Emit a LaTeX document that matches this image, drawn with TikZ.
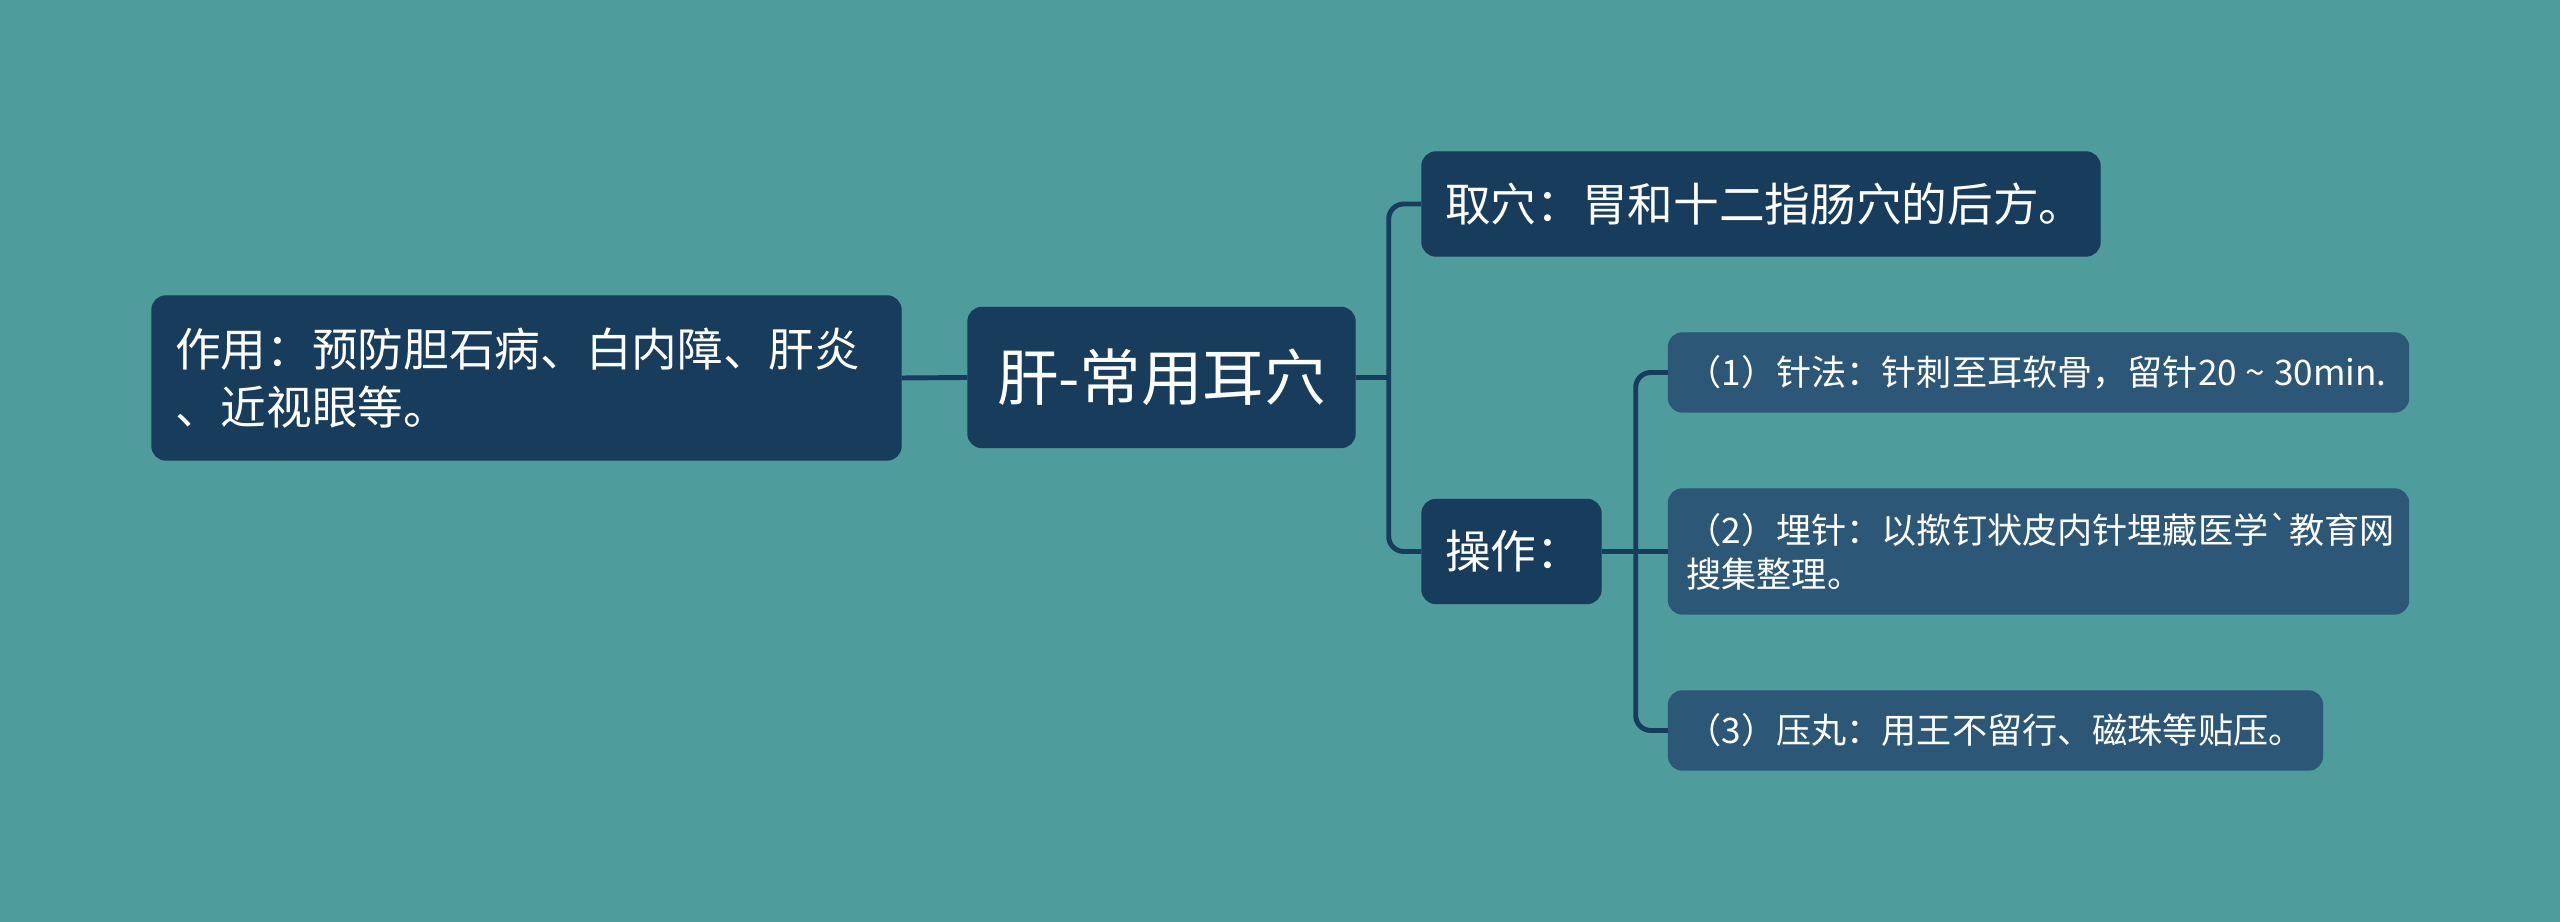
\documentclass[tikz,border=0pt]{standalone}
\usepackage{fontspec}
\setmainfont{Noto Sans CJK SC}
\newfontfamily\cjkplain{Noto Sans CJK SC}
\definecolor{bgc}{HTML}{4E9C9C}
\definecolor{mainbox}{HTML}{173C5C}
\definecolor{subbox}{HTML}{2D5777}
\definecolor{linec}{HTML}{173C5C}
\tikzset{
  mainnode/.style={fill=mainbox, draw=mainbox, rounded corners=0.14cm, text=white,
    inner xsep=0.23cm, inner ysep=0pt, align=left,
    font=\cjkplain\fontsize{13pt}{16.5pt}\selectfont},
  subnode/.style={fill=subbox, draw=subbox, rounded corners=0.14cm, text=white,
    inner xsep=0.18cm, inner ysep=0pt, align=left,
    font=\cjkplain\fontsize{10pt}{12.5pt}\selectfont},
  conn/.style={draw=linec, line width=1.4pt, rounded corners=0.15cm},
}
\begin{document}
\begin{tikzpicture}
\fill[bgc] (0,0) rectangle (25.6,-9.22);
\useasboundingbox (0,0) rectangle (25.6,-9.22);

\node[mainnode, text width=7.03cm, minimum height=1.64cm] (left) at (5.265,-3.78)
  {作用：预防胆石病、白内障、肝炎\\、近视眼等。};
\node[mainnode, align=center, text width=3.41cm, minimum height=1.40cm,
  font=\cjkplain\fontsize{17.5pt}{21pt}\selectfont] (root) at (11.615,-3.775) {肝-常用耳穴};
\node[mainnode, text width=6.32cm, minimum height=1.04cm] (qu) at (17.61,-2.04)
  {取穴：胃和十二指肠穴的后方。};
\node[mainnode, text width=1.33cm, minimum height=1.04cm] (cz) at (15.115,-5.515)
  {操作：};
\node[subnode, text width=7.04cm, minimum height=0.79cm] (s1) at (20.385,-3.725)
  {（1）针法：针刺至耳软骨，留针\mbox{20\hspace{0.25em}\textasciitilde\hspace{0.25em}30min.}};
\node[subnode, text width=7.04cm, minimum height=1.25cm] (s2) at (20.385,-5.515)
  {（2）埋针：以揿钉状皮内针埋藏医学\textasciigrave{}教育网\\搜集整理。};
\node[subnode, text width=6.18cm, minimum height=0.79cm] (s3) at (19.955,-7.305)
  {（3）压丸：用王不留行、磁珠等贴压。};

\coordinate (j1) at ([xshift=0.33cm]root.east);
\coordinate (j2) at ([xshift=0.34cm]cz.east);
\draw[conn] (left.east) -- (root.west);
\draw[conn] (root.east) -- (j1);
\draw[conn] (qu.west) -| (j1) |- (cz.west);
\draw[conn] (cz.east) -- (s2.west);
\draw[conn] (s1.west) -| (j2) |- (s3.west);
\end{tikzpicture}
\end{document}
